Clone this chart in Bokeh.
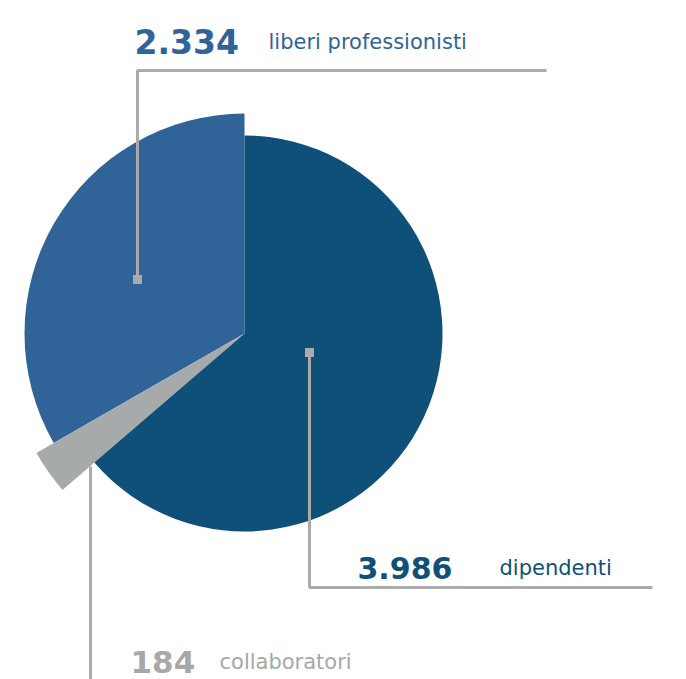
from bokeh.plotting import figure
from bokeh.models import Range1d, Label
from bokeh.embed import file_html
from bokeh.resources import INLINE
import math

# ---- data ----
categories = ["liberi professionisti", "collaboratori", "dipendenti"]
values = [2334, 184, 3986]
value_labels = ["2.334", "184", "3.986"]
# slice shares as drawn in the reference (percent of the full circle)
drawn_share_pct = [33.3, 3.0, 63.7]

colors = ["#306498", "#A7AAAB", "#0F5079"]
text_colors = ["#306498", "#A6A8A9", "#0F5079"]
radii = [220, 240, 198]

W, H = 686, 679
PAGE_H = 679


def sy(y):
    # page pixel row -> data y
    return PAGE_H - y


p = figure(width=W, height=H, output_backend="svg", toolbar_location=None,
           x_range=Range1d(0, W), y_range=Range1d(PAGE_H - H, PAGE_H),
           min_border=0)
p.axis.visible = False
p.grid.visible = False
p.outline_line_color = None
p.background_fill_color = "white"

cx, cy = 244, sy(333)

start = 90.0
for cat, share, col, r in zip(categories, drawn_share_pct, colors, radii):
    end = start + share / 100.0 * 360.0
    p.wedge(x=cx, y=cy, radius=r,
            start_angle=math.radians(start), end_angle=math.radians(end),
            fill_color=col, line_color=None)
    start = end

lc = "#ABABAB"
lw = 3
# liberi professionisti leader
p.line(x=[137, 137, 546], y=[sy(279), sy(70), sy(70)], line_color=lc, line_width=lw)
p.scatter(x=[137], y=[sy(279)], marker="square", size=9, fill_color=lc, line_color=None)
# dipendenti leader
p.line(x=[309, 309, 652], y=[sy(352), sy(587), sy(587)], line_color=lc, line_width=lw)
p.scatter(x=[309], y=[sy(352)], marker="square", size=9, fill_color=lc, line_color=None)
# collaboratori leader
p.line(x=[90, 90], y=[sy(466), sy(690)], line_color=lc, line_width=lw)

font = "DejaVu Sans"

def add_label(num, word, xn, xw, base, col, nsize, wsize):
    p.add_layout(Label(x=xn, y=sy(base), text=num, text_font=font,
                       text_font_size=f"{nsize}px", text_font_style="bold",
                       text_color=col, text_baseline="alphabetic"))
    p.add_layout(Label(x=xw, y=sy(base), text=word, text_font=font,
                       text_font_size=f"{wsize}px", text_color=col,
                       text_baseline="alphabetic"))

add_label(value_labels[0], categories[0], 134, 268, 41, text_colors[0], 33, 21)
add_label(value_labels[2], categories[2], 357, 499, 567, text_colors[2], 30, 21)
add_label(value_labels[1], categories[1], 130, 219, 661, text_colors[1], 31, 21)

open("out.html", "w").write(file_html(p, INLINE))
